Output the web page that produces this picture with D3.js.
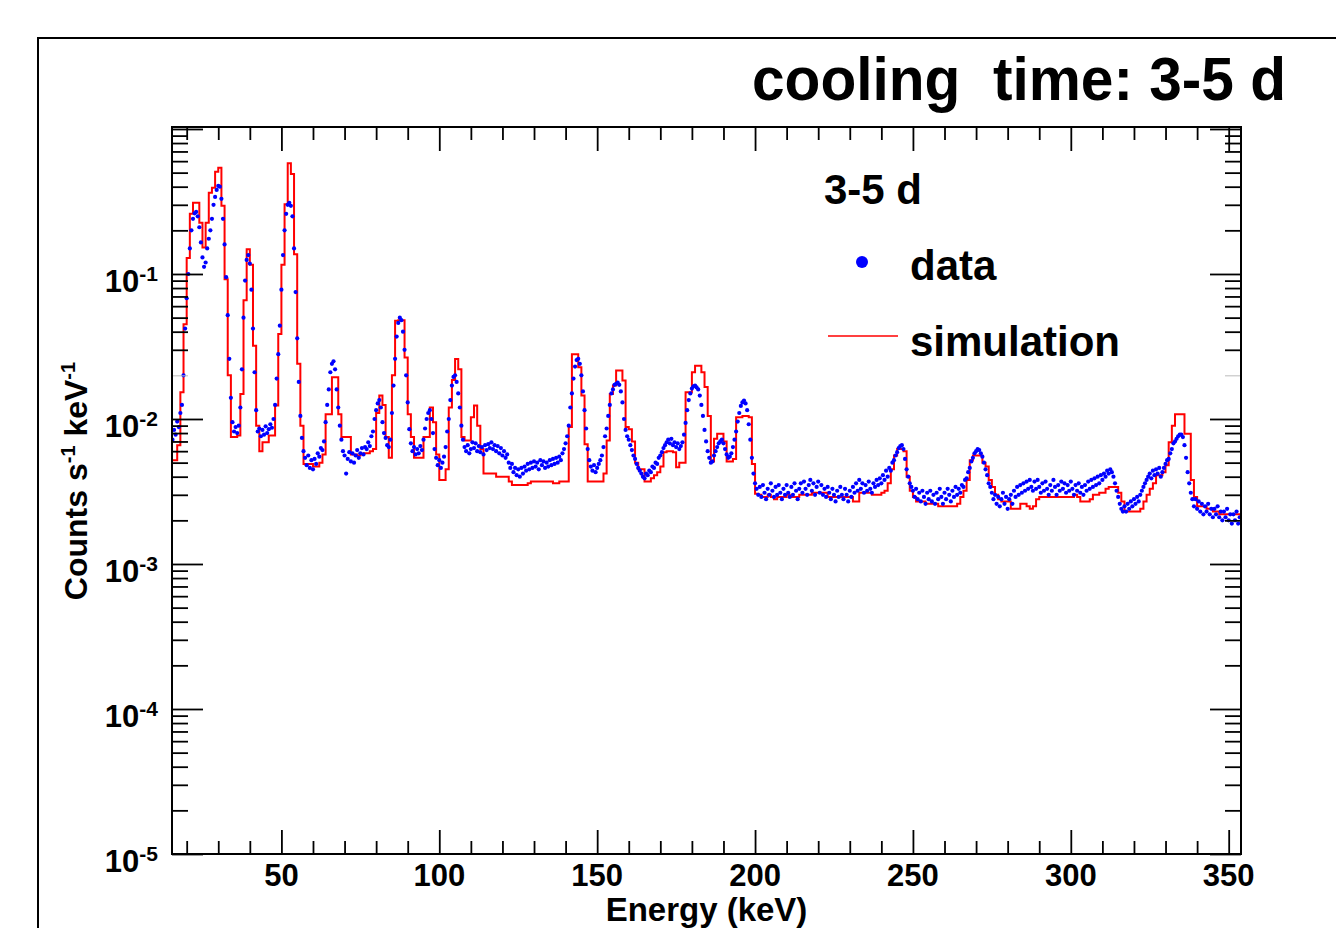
<!DOCTYPE html>
<html>
<head>
<meta charset="utf-8">
<script src="https://cdn.jsdelivr.net/npm/d3@7"></script>
<style>
  body { margin: 0; background: #fff; }
  svg text { font-family: "Liberation Sans", Arial, Helvetica, sans-serif; font-weight: bold; fill: #000; }
</style>
</head>
<body>
<div id="chart"></div>
<script>
// all spectrum values below are in units of 1e-3 counts s^-1 keV^-1
const UNIT = 1e-3;

// measured data, 0.5 keV steps; row r starts at 15.5 + 5*r keV
const dataStart = 15.5, dataStep = 0.5, dataRowWidth = 5;
const dataRows = [
  [7.2, 8.4, 7.8, 9.6, 8.8, 11, 12.5, 20, 42, 68],
  [100, 150, 200, 240, 262, 268, 250, 210, 165, 130],
  [112, 120, 150, 175, 200, 240, 300, 340, 380, 405],
  [400, 330, 240, 160, 95, 52, 26, 14, 9.5, 8.2],
  [8.8, 8.0, 9.0, 12, 22, 50, 90, 125, 135, 118],
  [78, 42, 21, 11.5, 8.2, 8.6, 7.6, 8.4, 7.8, 8.9],
  [8.0, 8.5, 9.2, 8.7, 10, 12.5, 19, 28, 44, 78],
  [135, 200, 260, 300, 310, 295, 250, 150, 75, 36],
  [18, 10.5, 7.4, 6.0, 5.4, 4.8, 5.6, 4.6, 5.2, 4.5],
  [5.3, 4.9, 5.8, 5.5, 6.3, 6.1, 7.0, 9.5, 12.5, 16],
  [21, 24, 25, 22, 16, 12, 9.0, 7.2, 6.0, 5.6],
  [4.2, 5.3, 5.9, 5.1, 5.8, 5.0, 5.6, 6.1, 5.4, 5.8],
  [6.3, 5.7, 6.4, 6.2, 6.9, 6.5, 7.6, 8.2, 10, 11.5],
  [12.8, 13.5, 12, 9.5, 8.0, 7.4, 6.6, 6.4, 7.2, 11],
  [17, 26, 37, 46, 50, 48, 40, 30, 20, 13],
  [8.5, 6.8, 6.0, 6.4, 5.7, 6.2, 5.8, 6.5, 6.1, 7.2],
  [8.6, 10, 11, 11.5, 10, 8.0, 6.2, 5.4, 4.8, 5.2],
  [4.6, 5.0, 5.5, 6.4, 8.2, 10, 13.5, 17, 19.5, 20],
  [18, 15, 12, 9.0, 7.2, 6.4, 6.0, 6.6, 5.8, 6.2],
  [6.9, 6.3, 6.8, 6.0, 6.5, 5.9, 6.4, 5.7, 6.6, 6.1],
  [6.7, 6.3, 6.9, 6.2, 6.6, 6.0, 6.5, 5.8, 6.3, 5.6],
  [6.0, 5.4, 5.7, 5.0, 4.6, 4.9, 4.3, 4.6, 4.1, 4.5],
  [4.0, 4.6, 4.2, 4.7, 4.4, 4.9, 4.5, 5.0, 4.6, 5.1],
  [4.7, 5.0, 4.5, 5.2, 4.8, 5.1, 4.6, 5.0, 4.7, 5.2],
  [4.8, 5.3, 4.9, 5.4, 5.0, 5.5, 5.2, 5.8, 6.2, 6.8],
  [7.6, 9.0, 12, 15, 19, 23, 25.5, 26, 24, 20],
  [15.5, 11.5, 8.6, 6.2, 5.2, 4.7, 4.4, 4.8, 4.3, 4.6],
  [4.9, 5.2, 5.6, 6.4, 7.6, 8.6, 10.5, 12.5, 15, 16],
  [17.2, 17.5, 17.8, 17.2, 15.5, 13, 10, 8.4, 7.6, 7.2],
  [6.6, 6.1, 5.6, 5.3, 4.9, 4.6, 4.4, 4.2, 4.0, 3.9],
  [4.2, 4.1, 4.4, 4.3, 4.7, 4.6, 5.0, 4.9, 5.4, 5.6],
  [5.9, 6.3, 6.6, 6.9, 7.2, 6.8, 7.3, 6.6, 6.9, 6.4],
  [6.8, 6.2, 6.5, 6.9, 7.8, 9.4, 11.5, 13.5, 15, 16.2],
  [16.8, 17, 16.5, 16, 14.5, 12.5, 10.5, 8.4, 7.0, 6.0],
  [5.4, 5.0, 5.1, 5.6, 6.0, 6.4, 6.8, 7.0, 7.2, 6.8],
  [6.2, 5.7, 5.4, 5.5, 5.8, 6.4, 7.2, 8.2, 9.6, 11],
  [12.3, 13, 13.4, 12.8, 11.5, 9.2, 7.2, 5.4, 4.2, 3.6],
  [3.3, 3.0, 3.4, 2.9, 3.5, 3.1, 2.8, 3.3, 3.0, 3.6],
  [3.2, 2.9, 3.4, 3.0, 3.5, 3.1, 2.8, 3.3, 3.0, 3.5],
  [3.1, 2.9, 3.4, 3.0, 3.6, 3.2, 2.8, 3.3, 3.6, 3.1],
  [3.7, 3.3, 3.0, 3.5, 3.8, 3.2, 3.6, 3.0, 3.4, 3.7],
  [3.1, 3.5, 3.0, 3.3, 2.9, 3.4, 3.1, 2.8, 3.3, 3.0],
  [2.7, 3.2, 2.9, 3.4, 3.0, 2.8, 3.3, 3.0, 2.7, 3.2],
  [2.9, 3.4, 3.1, 3.6, 3.2, 3.8, 3.3, 3.6, 3.1, 3.5],
  [3.2, 3.7, 3.3, 3.1, 3.6, 3.4, 3.8, 3.5, 3.9, 3.6],
  [4.1, 3.8, 4.4, 4.0, 4.6, 4.4, 5.0, 5.2, 5.6, 5.9],
  [6.3, 6.5, 6.6, 6.2, 5.3, 4.5, 4.0, 3.6, 3.4, 3.2],
  [2.9, 3.3, 2.8, 3.1, 2.7, 3.2, 2.9, 2.6, 3.1, 2.8],
  [3.2, 2.7, 3.0, 2.6, 3.1, 2.8, 3.3, 2.9, 2.6, 3.1],
  [2.8, 3.3, 3.0, 2.7, 3.2, 2.9, 3.4, 3.0, 3.3, 3.1],
  [3.5, 3.4, 3.8, 3.9, 4.3, 4.6, 5.1, 5.4, 5.8, 6.0],
  [6.2, 6.1, 5.8, 5.5, 5.0, 4.5, 4.1, 3.6, 3.4, 3.1],
  [2.8, 3.0, 2.6, 2.9, 2.5, 2.8, 3.1, 2.6, 2.9, 2.4],
  [2.8, 3.0, 2.6, 3.2, 2.9, 3.4, 3.0, 3.5, 3.1, 3.6],
  [3.2, 3.7, 3.3, 3.8, 3.4, 3.2, 3.7, 3.3, 3.8, 3.4],
  [3.1, 3.6, 3.2, 3.7, 3.3, 3.0, 3.5, 3.2, 3.8, 3.4],
  [3.0, 3.5, 3.2, 3.7, 3.3, 3.6, 3.1, 3.5, 3.2, 3.7],
  [3.3, 3.0, 3.5, 3.2, 3.6, 3.1, 3.4, 3.0, 3.5, 3.2],
  [3.7, 3.3, 3.8, 3.4, 3.9, 3.5, 4.0, 3.6, 4.1, 3.8],
  [4.2, 4.0, 4.4, 4.2, 4.5, 4.3, 4.0, 3.6, 3.2, 2.9],
  [2.6, 2.4, 2.3, 2.5, 2.3, 2.6, 2.4, 2.7, 2.5, 2.8],
  [2.6, 2.9, 2.7, 3.0, 3.2, 3.4, 3.6, 3.8, 4.0, 4.2],
  [3.9, 4.4, 4.1, 4.5, 4.2, 4.6, 4.0, 4.3, 4.6, 4.9],
  [5.2, 5.3, 5.8, 6.2, 6.8, 7.0, 7.3, 7.6, 7.8, 7.8],
  [7.5, 6.6, 5.4, 4.3, 3.6, 3.1, 2.8, 2.5, 2.8, 2.4],
  [2.7, 2.3, 2.6, 2.2, 2.5, 2.3, 2.6, 2.2, 2.4, 2.1],
  [2.4, 2.2, 2.5, 2.1, 2.3, 2.0, 2.3, 2.1, 2.4, 2.0],
  [2.2, 1.9, 2.2, 2.0, 2.3, 1.9, 2.1]
];

// simulation histogram, 1 keV bins; row r starts at 15 + 10*r keV
const simStart = 15, simBin = 1, simRowWidth = 10;
const simRows = [
  [5.2, 5.2, 6.6, 15.3, 45, 129, 260, 310, 310, 226],
  [152, 226, 364, 394, 508, 540, 295, 92, 20, 7.5],
  [7.5, 7.7, 14.9, 66, 148, 116, 32, 9.0, 6.0, 6.9],
  [6.9, 7.7, 7.7, 12.4, 38.5, 116, 303, 580, 490, 137],
  [24, 9.0, 4.9, 4.9, 4.9, 4.7, 4.7, 5.0, 5.7, 10.8],
  [10.8, 19.4, 19.4, 10.8, 7.5, 7.5, 7.5, 5.7, 5.7, 5.6],
  [5.7, 5.8, 5.8, 6.0, 6.2, 11.0, 14.5, 12.5, 7.5, 5.4],
  [20, 47.6, 48, 48, 26.6, 10.8, 7.5, 5.4, 5.4, 5.4],
  [7.5, 7.5, 12, 9.5, 5.7, 3.8, 3.8, 4.5, 12, 18.6],
  [25.9, 22, 7.5, 7.1, 7.1, 10.3, 12.4, 9.0, 6.2, 4.2],
  [4.2, 4.2, 4.2, 4.0, 4.0, 4.0, 4.0, 3.7, 3.5, 3.5],
  [3.5, 3.5, 3.5, 3.6, 3.7, 3.7, 3.7, 3.7, 3.7, 3.7],
  [3.7, 3.6, 3.6, 3.7, 3.7, 3.7, 8.8, 28, 28, 22.7],
  [14.5, 6.7, 3.7, 3.7, 3.7, 3.7, 3.7, 4.2, 7.1, 14.9],
  [17, 21.6, 21.6, 18.4, 8.8, 8.5, 7.0, 5.0, 4.5, 4.5],
  [3.7, 3.7, 3.9, 4.1, 4.3, 4.7, 5.9, 6.0, 6.0, 5.9],
  [4.65, 5.0, 5.0, 15.3, 15.3, 21, 23.3, 23.3, 21, 16.6],
  [10.5, 5.1, 7.3, 7.9, 7.9, 7.0, 5.1, 5.1, 5.3, 10.3],
  [10.3, 10.5, 10.5, 10.3, 4.9, 3.05, 3.0, 2.9, 2.9, 3.0],
  [2.9, 2.8, 2.9, 2.9, 2.9, 3.0, 2.9, 2.9, 2.9, 3.0],
  [3.0, 3.0, 3.0, 3.1, 3.1, 3.1, 3.1, 3.1, 2.9, 2.9],
  [2.9, 2.9, 2.9, 2.9, 2.9, 2.9, 2.7, 2.7, 3.1, 3.1],
  [3.1, 3.1, 3.0, 3.0, 3.0, 3.1, 3.2, 3.6, 4.5, 5.6],
  [6.2, 6.2, 6.0, 4.0, 3.2, 2.9, 2.7, 2.7, 2.7, 2.6],
  [2.6, 2.6, 2.6, 2.5, 2.5, 2.5, 2.5, 2.5, 2.5, 2.6],
  [2.9, 3.2, 3.8, 5.2, 5.6, 5.6, 5.6, 5.0, 4.7, 3.8],
  [3.4, 3.0, 2.8, 2.7, 2.7, 2.7, 2.4, 2.4, 2.4, 2.6],
  [2.6, 2.5, 2.4, 2.5, 2.8, 2.9, 2.9, 2.9, 2.9, 2.9],
  [2.9, 2.9, 2.9, 2.9, 2.9, 2.9, 3.0, 2.9, 2.7, 2.7],
  [2.7, 2.8, 3.0, 3.0, 3.1, 3.1, 3.3, 3.4, 3.4, 3.4],
  [3.1, 2.7, 2.3, 2.3, 2.3, 2.3, 2.3, 2.4, 2.7, 3.0],
  [3.3, 3.6, 4.1, 4.1, 4.3, 4.8, 6.9, 9.0, 10.8, 10.8],
  [10.8, 7.9, 7.9, 3.8, 2.9, 2.5, 2.5, 2.5, 2.4, 2.4],
  [2.3, 2.3, 2.2, 2.2, 2.2, 2.2, 2.2, 2.2, 2.2]
];

const xMajorTicks = [50, 100, 150, 200, 250, 300, 350];
const yMajorTicks = [1e-5, 1e-4, 1e-3, 1e-2, 1e-1];
const yTickExponents = ["-5", "-4", "-3", "-2", "-1"];

const titleText = "cooling  time: 3-5 d";
const legendHeader = "3-5 d";
const seriesNames = ["data", "simulation"];

// ---------------------------------------------------------------

const W = 1336, H = 928;
const plot = { left: 172, right: 1241, top: 127, bottom: 854 };

const dataPoints = dataRows.flatMap((row, r) =>
  row.map((v, j) => ({ e: dataStart + r * dataRowWidth + j * dataStep, v: v * UNIT }))
);
const simBins = simRows.flatMap((row, r) =>
  row.map((v, j) => ({ e: simStart + r * simRowWidth + j * simBin, v: v * UNIT }))
);

const x = d3.scaleLinear().domain([15.35, 353.9]).range([plot.left, plot.right]);
const y = d3.scaleLog().domain([1e-5, 1.032]).range([plot.bottom, plot.top]);

const svg = d3.select("#chart")
  .append("svg")
  .attr("width", W)
  .attr("height", H);

// outer canvas frame (runs off the right and bottom edges)
svg.append("rect")
  .attr("x", 38).attr("y", 38)
  .attr("width", 1330).attr("height", 920)
  .attr("fill", "none")
  .attr("stroke", "#000")
  .attr("stroke-width", 2);

svg.append("clipPath").attr("id", "plotclip")
  .append("rect")
  .attr("x", plot.left).attr("y", plot.top)
  .attr("width", plot.right - plot.left).attr("height", plot.bottom - plot.top);

// simulation as a step histogram
let last = simBins[simBins.length - 1];
let stepPts = simBins.map(b => [x(b.e), y(b.v)]);
stepPts.push([x(last.e + simBin), y(last.v)]);

svg.append("path")
  .attr("clip-path", "url(#plotclip)")
  .attr("d", d3.line().curve(d3.curveStepAfter)(stepPts))
  .attr("fill", "none")
  .attr("stroke", "#ff0000")
  .attr("stroke-width", 2);

// data as small markers
svg.append("g")
  .attr("clip-path", "url(#plotclip)")
  .selectAll("circle")
  .data(dataPoints)
  .join("circle")
  .attr("cx", d => x(d.e))
  .attr("cy", d => y(d.v))
  .attr("r", 2.1)
  .attr("fill", "#0000ff");

// ---- axes ----
let xMinor = d3.range(20, 351, 10).filter(d => !xMajorTicks.includes(d));
let yAll = y.ticks();
let isPow10 = d => Math.abs(Math.log10(d) - Math.round(Math.log10(d))) < 1e-6;
let yMinor = yAll.filter(d => !isPow10(d));
let yMajor = yAll.filter(d => isPow10(d));

function tickGroup(axis, tx, ty) {
  let g = svg.append("g").attr("transform", `translate(${tx},${ty})`).call(axis);
  g.select(".domain").remove();
  g.selectAll("text").remove();
  g.selectAll("line").attr("stroke", "#000").attr("stroke-width", 1.8);
  return g;
}

tickGroup(d3.axisBottom(x).tickValues(xMajorTicks).tickSize(-24), 0, plot.bottom);
tickGroup(d3.axisBottom(x).tickValues(xMinor).tickSize(-13), 0, plot.bottom);
tickGroup(d3.axisTop(x).tickValues(xMajorTicks).tickSize(-24), 0, plot.top);
tickGroup(d3.axisTop(x).tickValues(xMinor).tickSize(-13), 0, plot.top);

tickGroup(d3.axisLeft(y).tickValues(yMajor).tickSize(-31), plot.left, 0);
let lMinor = tickGroup(d3.axisLeft(y).tickValues(yMinor).tickSize(-16), plot.left, 0);
tickGroup(d3.axisRight(y).tickValues(yMajor).tickSize(-31), plot.right, 0);
let rMinor = tickGroup(d3.axisRight(y).tickValues(yMinor).tickSize(-16), plot.right, 0);

// the 2e-2 minor tick comes out faint in the original
[lMinor, rMinor].forEach(g =>
  g.selectAll(".tick")
    .filter(d => Math.abs(d - 0.02) < 1e-9)
    .select("line")
    .attr("stroke", "#bbb")
    .attr("stroke-width", 1)
);

// frame
svg.append("rect")
  .attr("x", plot.left).attr("y", plot.top)
  .attr("width", plot.right - plot.left).attr("height", plot.bottom - plot.top)
  .attr("fill", "none")
  .attr("stroke", "#000")
  .attr("stroke-width", 2);

// x tick labels
svg.append("g")
  .selectAll("text")
  .data(xMajorTicks)
  .join("text")
  .attr("x", d => x(d))
  .attr("y", 886)
  .attr("text-anchor", "middle")
  .attr("font-size", 31)
  .text(d => d);

// y tick labels 10^n
let yLab = svg.append("g")
  .selectAll("text")
  .data(yMajorTicks)
  .join("text")
  .attr("x", 158)
  .attr("y", d => y(d) + 18)
  .attr("text-anchor", "end")
  .attr("font-size", 31);
yLab.append("tspan").text("10");
yLab.append("tspan")
  .attr("font-size", 21)
  .attr("dy", -11)
  .text((d, i) => yTickExponents[i]);

// axis titles
svg.append("text")
  .attr("x", (plot.left + plot.right) / 2)
  .attr("y", 921)
  .attr("text-anchor", "middle")
  .attr("font-size", 33)
  .text("Energy (keV)");

let yt = svg.append("text")
  .attr("transform", "translate(87,481) rotate(-90)")
  .attr("text-anchor", "middle")
  .attr("font-size", 32);
yt.append("tspan").text("Counts s");
yt.append("tspan").attr("font-size", 20).attr("dy", -12).text("-1");
yt.append("tspan").attr("dy", 12).text(" keV");
yt.append("tspan").attr("font-size", 20).attr("dy", -12).text("-1");

// title
svg.append("text")
  .attr("x", 1286)
  .attr("y", 100)
  .attr("text-anchor", "end")
  .attr("font-size", 61)
  .attr("textLength", 534)
  .attr("lengthAdjust", "spacingAndGlyphs")
  .style("white-space", "pre")
  .text(titleText);

// legend
let legend = svg.append("g");
legend.append("text")
  .attr("x", 824).attr("y", 204)
  .attr("font-size", 42)
  .text(legendHeader);
legend.append("circle")
  .attr("cx", 862).attr("cy", 262).attr("r", 6)
  .attr("fill", "#0000ff");
legend.append("text")
  .attr("x", 910).attr("y", 280)
  .attr("font-size", 42)
  .text(seriesNames[0]);
legend.append("line")
  .attr("x1", 828).attr("x2", 898)
  .attr("y1", 336).attr("y2", 336)
  .attr("stroke", "#ff0000")
  .attr("stroke-width", 1.5);
legend.append("text")
  .attr("x", 910).attr("y", 356)
  .attr("font-size", 42)
  .text(seriesNames[1]);
</script>
</body>
</html>
